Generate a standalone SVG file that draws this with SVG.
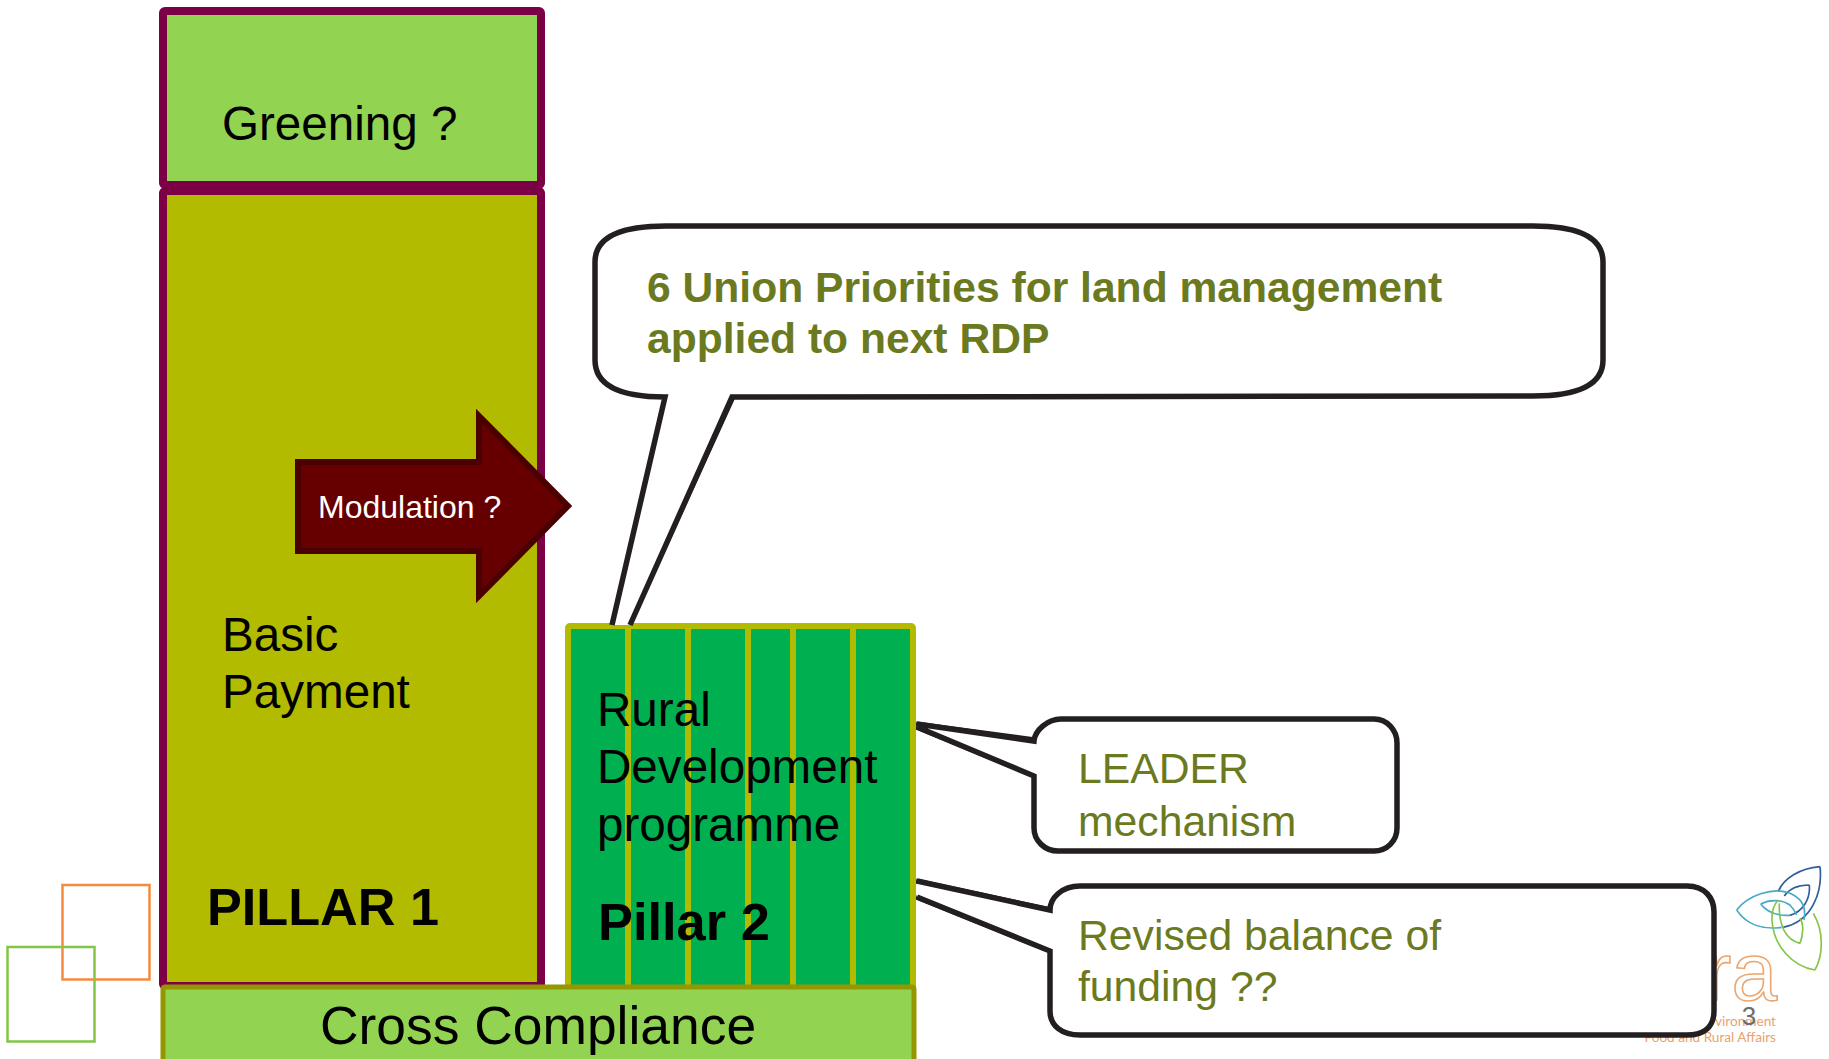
<svg xmlns="http://www.w3.org/2000/svg" width="1829" height="1059" viewBox="0 0 1829 1059">
<style>
text{font-family:"Liberation Sans",Arial,sans-serif}
.bk{fill:#000;font-size:47.6px}
.ol{fill:#6b7a1e;font-size:42.7px}
.call{fill:#fff;stroke:#231f20;stroke-width:5.5;stroke-linejoin:miter}
.lg{fill:none;stroke-width:5}
.lt{font-family:Lato,"Liberation Sans",sans-serif;font-size:13.6px;fill:#e8a36c}
</style>
<rect width="1829" height="1059" fill="#fff"/>
<g id="deco">
<rect x="62.5" y="885" width="87" height="94.5" fill="none" stroke="#f58a3c" stroke-width="2.5"/>
<rect x="7.5" y="947" width="87" height="94.5" fill="none" stroke="#84c548" stroke-width="2.5"/>
</g>
<g id="logo">
<g transform="translate(1600 840) scale(.3333)">
<path class="lg" stroke="#2f5f96" d="M660 80C600 85 550 115 535 155M660 80C668 150 640 245 548 262M628 135C590 135 565 150 553 168M628 135C632 175 610 215 570 226"/>
<path class="lg" stroke="#45aac4" d="M410 210C445 165 520 140 570 160C605 175 620 200 612 240M410 210C440 255 490 270 545 262M482 192C510 178 545 178 570 195C580 205 585 215 590 225M482 192C500 215 530 228 570 226"/>
<path class="lg" stroke="#84c548" d="M645 390C580 380 520 320 516 240C515 210 525 190 535 180M645 390C672 340 670 270 640 220M600 310C560 300 535 260 538 190M600 310C612 280 610 250 600 235"/>
</g>
<text x="1777" y="1000" font-size="82" text-anchor="end" fill="#fff" stroke="#eba66f" stroke-width="1.6">ra</text>
<text class="lt" x="1776" y="1026" text-anchor="end">vironment</text>
<text class="lt" x="1776" y="1042" text-anchor="end">Food and Rural Affairs</text>
</g>
<g id="pillar1">
<rect x="163" y="191" width="378" height="795" rx="2" fill="#b2bb00" stroke="#7b0046" stroke-width="8"/>
<text class="bk" x="222" y="651">Basic</text>
<text class="bk" x="222" y="708">Payment</text>
<text x="207" y="925" font-size="52.2" font-weight="bold" fill="#000">PILLAR 1</text>
</g>
<g id="greening">
<rect x="163" y="11" width="378" height="174" rx="2" fill="#92d351" stroke="#7b0046" stroke-width="8"/>
<text class="bk" x="222" y="140">Greening ?</text>
</g>
<g id="connectors">
<path d="M612 627L666 397M628 627L733 397" fill="none" stroke="#231f20" stroke-width="5"/>
<path d="M916 724L1036 740M916 727L1036 776" fill="none" stroke="#231f20" stroke-width="5"/>
<path d="M916 881L1051 910M916 897L1051 951" fill="none" stroke="#231f20" stroke-width="5"/>
</g>
<g id="modulation">
<path d="M298 462H479V416L568 506L479 596V551H298Z" fill="#660000" stroke="#4a0000" stroke-width="6"/>
<text x="318" y="518" font-size="32" fill="#fff">Modulation ?</text>
</g>
<g id="pillar2">
<rect x="568" y="626" width="345" height="365" rx="2" fill="#00b050" stroke="#b2bb00" stroke-width="6"/>
<path d="M628 626V990M688 626V990M748 626V990M793 626V990M853 626V990" stroke="#b2bb00" stroke-width="6" fill="none"/>
<text class="bk" x="597" y="726">Rural</text>
<text class="bk" x="597" y="783">Development</text>
<text class="bk" x="597" y="841">programme</text>
<text x="598" y="940" font-size="52.4" font-weight="bold" fill="#000">Pillar 2</text>
</g>
<g id="cross-compliance">
<rect x="163" y="987" width="751" height="80" rx="2" fill="#92d351" stroke="#949700" stroke-width="5"/>
<text x="538" y="1044" font-size="53.4" text-anchor="middle" fill="#000">Cross Compliance</text>
</g>
<g id="callout-priorities">
<path fill="#fff" stroke="#231f20" stroke-width="5.5" d="M612 625L665 397C620 397 595 385 595 360V262C595 237 620 226 666 226H1533C1579 226 1603 237 1603 262V360C1603 385 1579 396 1533 396L732 397L630 625"/>
<text x="647" y="302" font-size="42.6" font-weight="bold" fill="#6b7a1e">6 Union Priorities for land management</text>
<text x="647" y="353" font-size="42.6" font-weight="bold" fill="#6b7a1e">applied to next RDP</text>
</g>
<g id="callout-leader">
<path class="call" d="M917 724L1034 741C1035 730 1048 719 1061 719H1374C1387 719 1397 730 1397 743V828C1397 841 1387 851 1374 851H1058C1045 851 1034 841 1034 828V776L917 727"/>
<text class="ol" x="1078" y="783">LEADER</text>
<text class="ol" x="1078" y="836">mechanism</text>
</g>
<g id="callout-funding">
<path class="call" d="M917 881L1050 910C1050 898 1062 886 1080 886H1687C1705 886 1714 898 1714 912V1011C1714 1026 1705 1035 1687 1035H1080C1062 1035 1050 1026 1050 1011V951L917 897"/>
<text class="ol" x="1078" y="950">Revised balance of</text>
<text class="ol" x="1078" y="1001">funding ??</text>
</g>
<text x="1749" y="1025" font-size="26" text-anchor="middle" fill="#6d6e71" id="page-number">3</text>
</svg>
